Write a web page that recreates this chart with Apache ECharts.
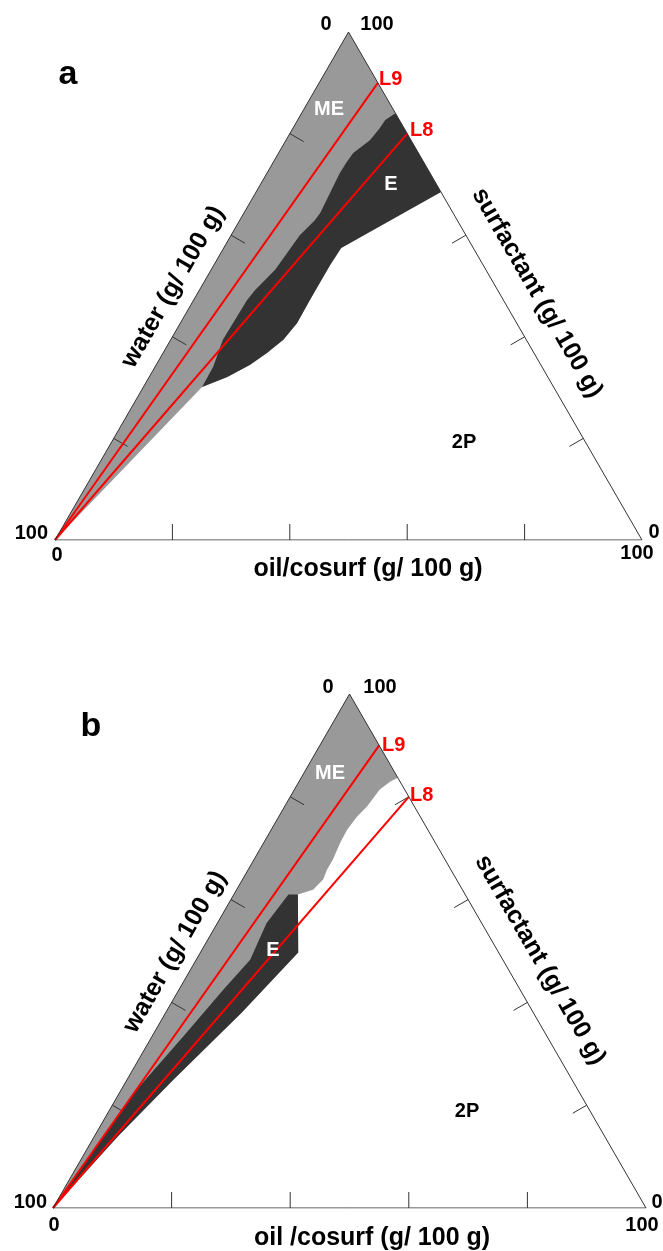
<!DOCTYPE html>
<html>
<head>
<meta charset="utf-8">
<script src="https://cdn.jsdelivr.net/npm/echarts@6/dist/echarts.min.js"></script>
<style>
  html, body { margin: 0; padding: 0; background: #fff; }
  #chart { width: 663px; height: 1251px; }
</style>
</head>
<body>
<div id="chart"></div>
<script>
  // every point is [oil/cosurf, surfactant] in g/100 g, water = 100 - oil - surfactant
  var axisTicks = [20, 40, 60, 80];
  var lineL9 = [[0, 0], [10, 90]];
  var lineL8 = [[0, 0], [20, 80]];

  // panel a
  var aMEtoE = [[16, 84], [14.9, 82.7], [14.8, 81.1], [14.3, 78.7], [12.7, 76.2], [12.5, 74.4],
    [12.4, 72.2], [12.7, 68.3], [13.0, 64.4], [12.8, 63.0], [11.7, 60.0], [10.9, 53.2],
    [9.5, 49.2], [9.1, 47.2], [8.9, 39.4], [9.9, 34.1], [10.0, 30.1]];
  var aOuterE = [[31.5, 68.5], [20, 57.5], [19.8, 54.1], [19.8, 50.6], [19.8, 47.2], [19.9, 42.7],
    [19.2, 39.4], [17.7, 36.8], [16.0, 34.5], [13.3, 32.1], [10.0, 30.1]];

  // panel b
  var bEdgeME = [[16.3, 83.7], [15.4, 83.0], [14.4, 81.4], [13.9, 78.1], [13.2, 76.1], [12.8, 73.6],
    [12.9, 71.1], [13.3, 67.8], [13.3, 65.8], [13.6, 63.9], [12.9, 61.9], [10.8, 61.0]];
  var bInnerE = [[9.2, 61.0], [8.3, 55.4], [9.1, 48.3], [7.5, 42.5], [5.3, 33.4], [2.6, 23.0],
    [1.7, 15.8], [0, 0]];
  var bOuterE = [[10.8, 61.0], [16.5, 49.7], [12.8, 38.0], [7.8, 24.9], [4.0, 14.0], [0, 0]];

  var H = Math.sqrt(3) / 2;
  var TICK_LEN = 16;
  var FONT = '"Liberation Sans", Arial, sans-serif';

  function toXY (p) {
    return [p[0] + p[1] / 2, p[1] * H];
  }

  function polygonSeries (gi, points, color, z) {
    return {
      type: 'custom',
      coordinateSystem: 'cartesian2d',
      xAxisIndex: gi,
      yAxisIndex: gi,
      silent: true,
      z: z,
      data: [toXY(points[0])],
      renderItem: function (params, api) {
        var pts = points.map(function (p) { return api.coord(toXY(p)) });
        return { type: 'polygon', shape: { points: pts }, style: { fill: color } };
      }
    };
  }

  function lineSeries (gi, points, color, width, z) {
    return {
      type: 'line',
      xAxisIndex: gi,
      yAxisIndex: gi,
      silent: true,
      z: z,
      symbol: 'none',
      animation: false,
      data: points.map(toXY),
      lineStyle: { color: color, width: width }
    };
  }

  function tickSeries (gi, points, dx, dy) {
    return {
      type: 'custom',
      coordinateSystem: 'cartesian2d',
      xAxisIndex: gi,
      yAxisIndex: gi,
      silent: true,
      z: 5,
      data: points.map(toXY),
      renderItem: function (params, api) {
        var p = api.coord([api.value(0), api.value(1)]);
        return {
          type: 'line',
          shape: { x1: p[0], y1: p[1], x2: p[0] + dx * TICK_LEN, y2: p[1] + dy * TICK_LEN },
          style: { stroke: '#333', lineWidth: 1 }
        };
      }
    };
  }

  function panelSeries (gi, mePoly, ePoly) {
    var bottom = axisTicks.map(function (t) { return [t, 0] });
    var left = axisTicks.map(function (t) { return [0, t] });
    var right = axisTicks.map(function (t) { return [100 - t, t] });
    return [
      polygonSeries(gi, mePoly, '#999999', 1),
      polygonSeries(gi, ePoly, '#333333', 2),
      lineSeries(gi, lineL9, '#ff0000', 2, 6),
      lineSeries(gi, lineL8, '#ff0000', 2, 6),
      lineSeries(gi, [[0, 0], [100, 0], [0, 100], [0, 0]], '#333333', 1, 7),
      tickSeries(gi, bottom, 0, -1),
      tickSeries(gi, left, H, 0.5),
      tickSeries(gi, right, -H, 0.5)
    ];
  }

  var meA = [[0, 0], [0, 100]].concat(aOuterE);
  var eA = aMEtoE.concat(aOuterE.slice(0, -1).reverse());
  var meB = [[0, 0], [0, 100]].concat(bEdgeME, bOuterE.slice(1));
  var eB = bInnerE.concat(bOuterE.slice(0, -1).reverse());

  function txt (text, x, y, size, color, align, rot) {
    return {
      type: 'text',
      x: x,
      y: y,
      rotation: rot || 0,
      silent: true,
      z: 10,
      style: {
        text: text,
        font: 'bold ' + size + 'px ' + FONT,
        fill: color || '#000',
        align: align || 'center',
        verticalAlign: 'middle',
        textAlign: align || 'center',
        textVerticalAlign: 'middle'
      }
    };
  }

  var R60 = Math.PI / 3;
  var labels = [
    // panel a
    txt('a', 68, 75, 34),
    txt('0', 326, 24, 20), txt('100', 377, 24, 20),
    txt('100', 48, 533, 20, '#000', 'right'), txt('0', 57, 555, 20),
    txt('0', 654, 532, 20), txt('100', 637, 553, 20),
    txt('oil/cosurf (g/ 100 g)', 368, 569, 25),
    txt('water (g/ 100 g)', 173, 287, 25, '#000', 'center', R60),
    txt('surfactant (g/ 100 g)', 537, 293, 25, '#000', 'center', -R60),
    txt('L9', 379, 79, 20, '#ff0000', 'left'), txt('L8', 410, 130, 20, '#ff0000', 'left'),
    txt('ME', 329, 109, 20, '#fff'), txt('E', 391, 184, 20, '#fff'),
    txt('2P', 464, 442, 20),
    // panel b
    txt('b', 91, 727, 34),
    txt('0', 328, 687, 20), txt('100', 380, 687, 20),
    txt('100', 47, 1202, 20, '#000', 'right'), txt('0', 54, 1225, 20),
    txt('0', 657, 1202, 20), txt('100', 642, 1225, 20),
    txt('oil /cosurf (g/ 100 g)', 372, 1238, 25),
    txt('water (g/ 100 g)', 175, 952, 25, '#000', 'center', R60),
    txt('surfactant (g/ 100 g)', 540, 960, 25, '#000', 'center', -R60),
    txt('L9', 382, 745, 20, '#ff0000', 'left'), txt('L8', 410, 795, 20, '#ff0000', 'left'),
    txt('ME', 330, 773, 20, '#fff'), txt('E', 273, 950, 20, '#fff'),
    txt('2P', 467, 1111, 20)
  ];

  var hiddenX = function (gi) {
    return { gridIndex: gi, type: 'value', min: 0, max: 100, show: false };
  };
  var hiddenY = function (gi) {
    return { gridIndex: gi, type: 'value', min: 0, max: 100 * H, show: false };
  };

  var chart = echarts.init(document.getElementById('chart'));
  chart.setOption({
    animation: false,
    backgroundColor: '#fff',
    grid: [
      { left: 55, top: 32, width: 587, height: 508 },
      { left: 53, top: 694, width: 593, height: 514 }
    ],
    xAxis: [hiddenX(0), hiddenX(1)],
    yAxis: [hiddenY(0), hiddenY(1)],
    series: panelSeries(0, meA, eA).concat(panelSeries(1, meB, eB)),
    graphic: labels
  });
</script>
</body>
</html>
